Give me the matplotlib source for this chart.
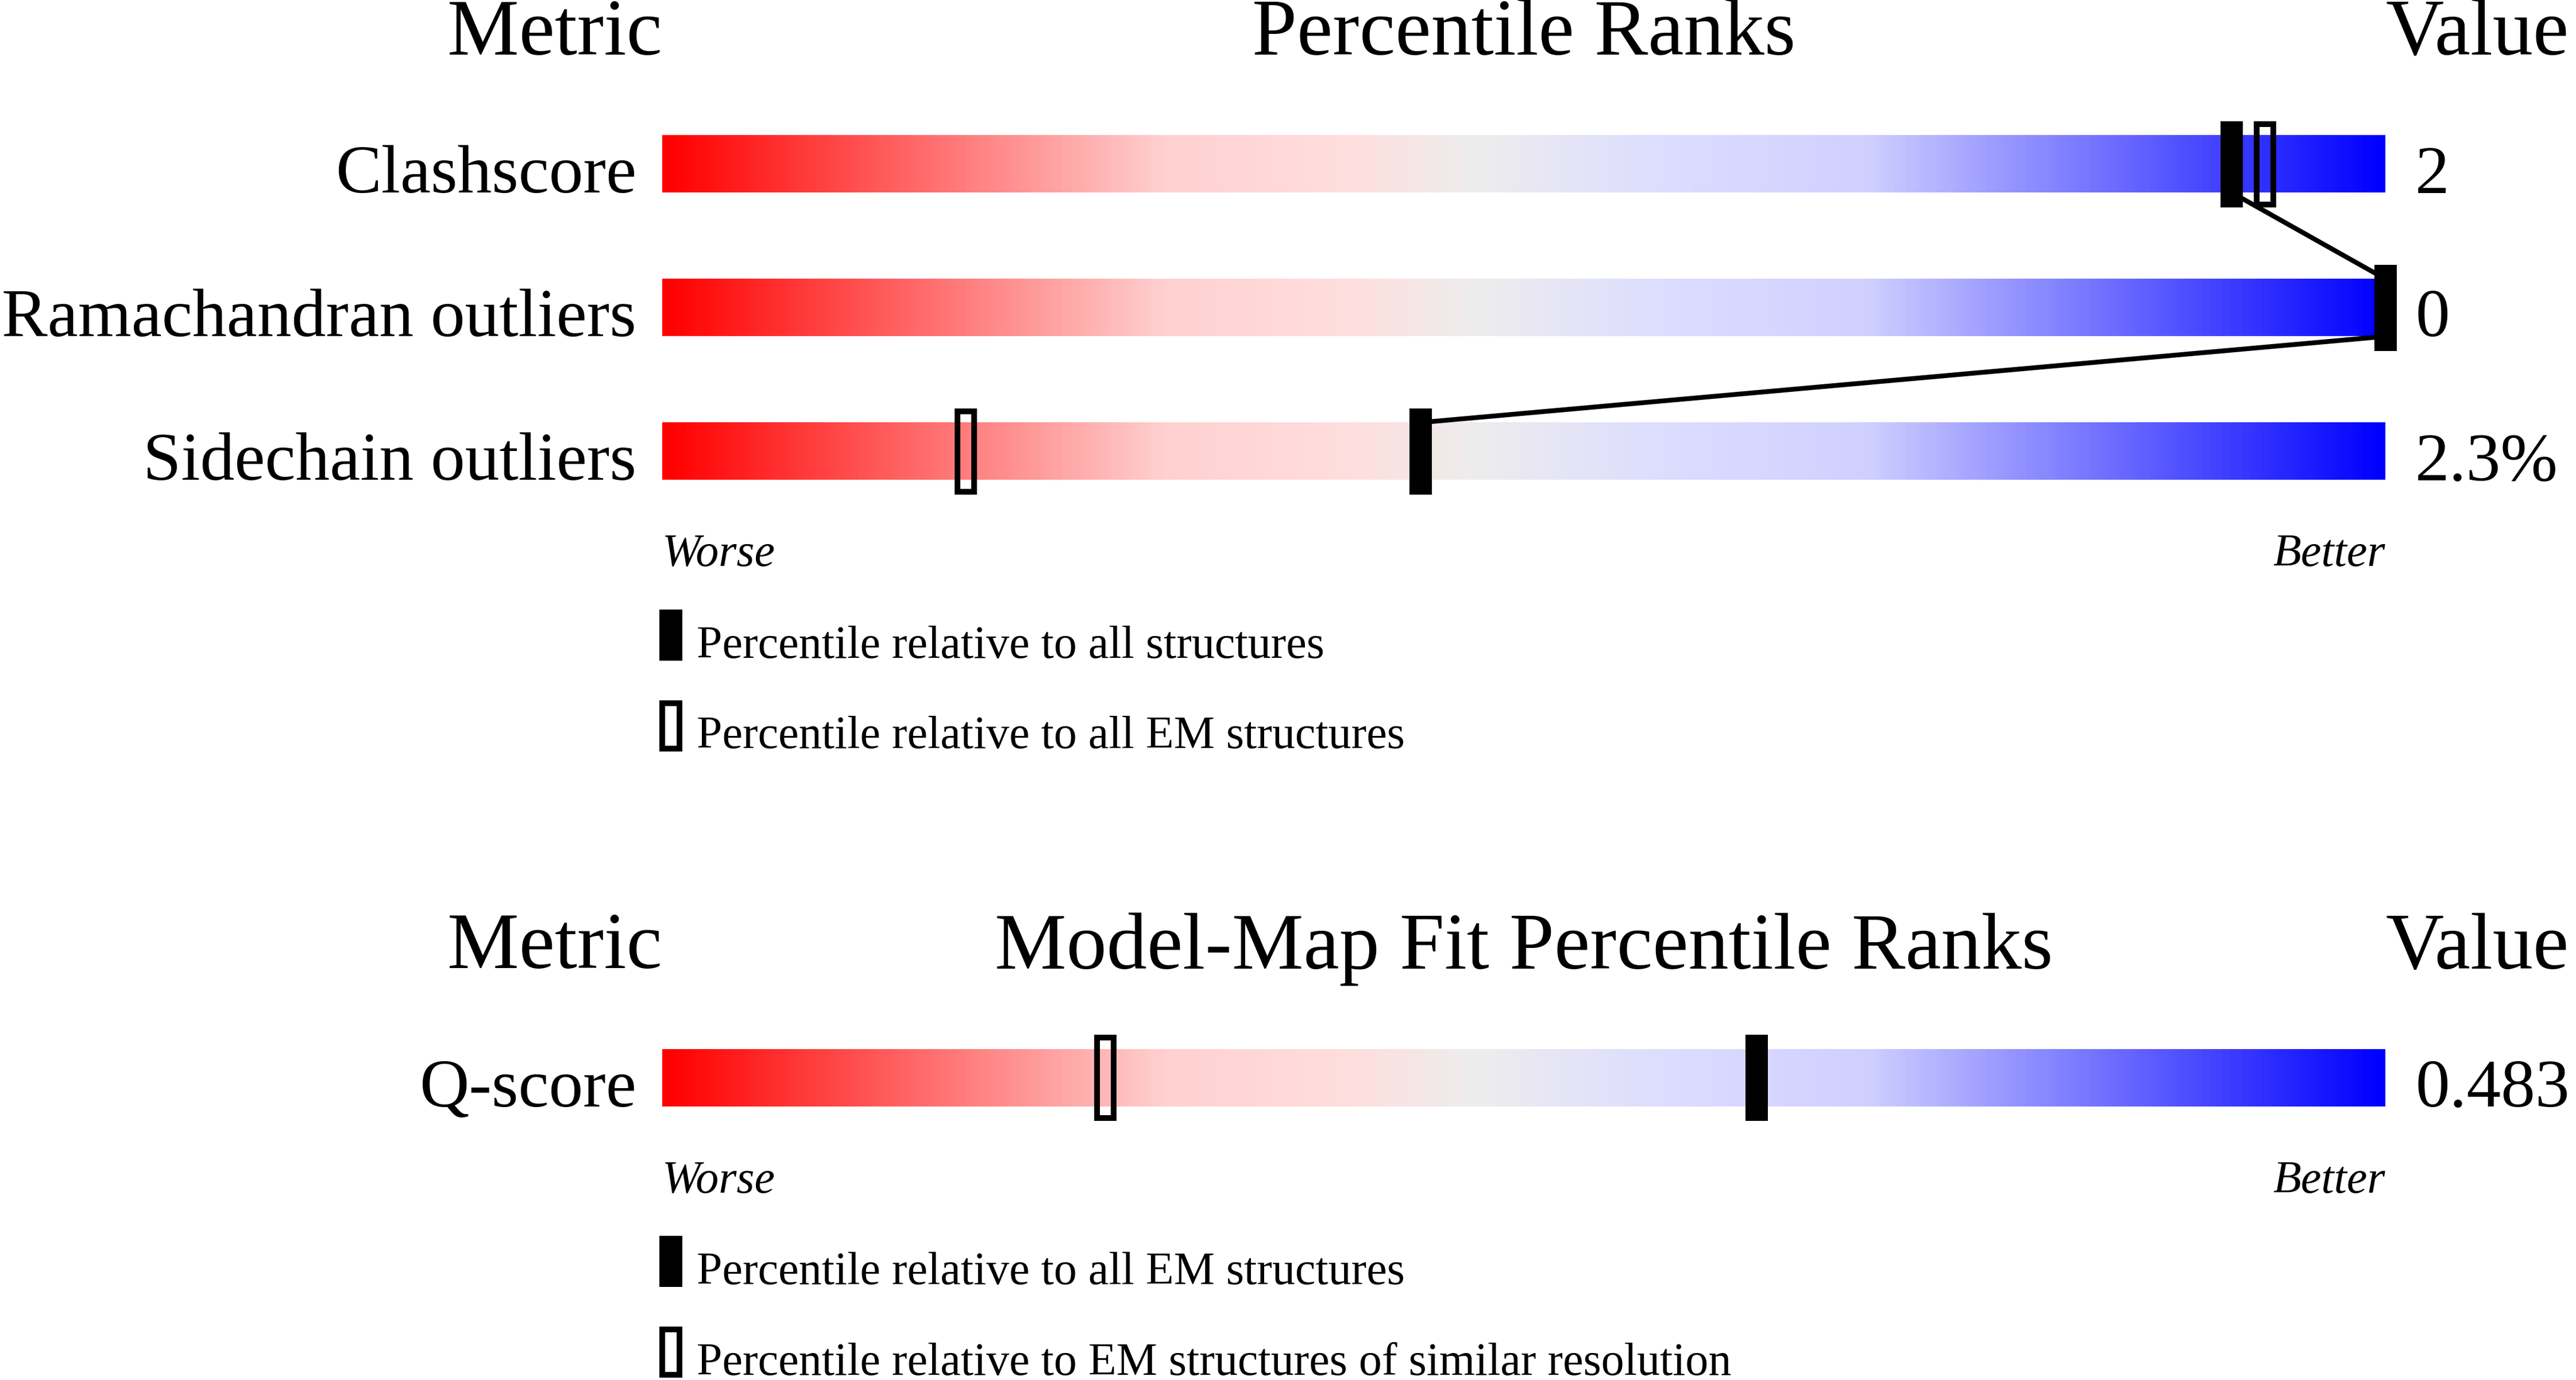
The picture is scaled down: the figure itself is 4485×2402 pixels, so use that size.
import numpy as np
import matplotlib
matplotlib.use("Agg")
import matplotlib.pyplot as plt
from matplotlib.patches import Rectangle
from matplotlib.colors import LinearSegmentedColormap

# ---------------- data ----------------
top_metrics = ["Clashscore", "Ramachandran outliers", "Sidechain outliers"]
top_pct_all = [91.1, 100.0, 44.0]          # percentile relative to all structures
top_pct_em = [93.0, np.nan, 17.6]          # percentile relative to all EM structures
top_values = ["2", "0", "2.3%"]

bot_metrics = ["Q-score"]
bot_pct_all = [63.5]                        # relative to all EM structures
bot_pct_res = [25.7]                        # relative to EM structures of similar resolution
bot_values = ["0.483"]

top_titles = ["Metric", "Percentile Ranks", "Value"]
bot_titles = ["Metric", "Model-Map Fit Percentile Ranks", "Value"]
top_legend = ["Percentile relative to all structures",
              "Percentile relative to all EM structures"]
bot_legend = ["Percentile relative to all EM structures",
              "Percentile relative to EM structures of similar resolution"]
scale_labels = ["Worse", "Better"]

# ---------------- style ----------------
FONT = "Liberation Serif"
plt.rcParams["font.family"] = [FONT, "DejaVu Serif"]
W, H = 4485, 2402
DPI = 100
PX_X = 100 / 3000.0      # data units per pixel horizontally (bar is 3000 px wide)
ROW_PX = 250.0           # pixels per row unit vertically

grad = LinearSegmentedColormap.from_list("slider", [
    (0.00, (1.00, 0.00, 0.00)),
    (0.29, (1.00, 0.816, 0.816)),
    (0.40, (1.00, 0.871, 0.871)),
    (0.47, (0.933, 0.929, 0.929)),
    (0.58, (0.867, 0.867, 1.00)),
    (0.70, (0.816, 0.816, 1.00)),
    (1.00, (0.00, 0.00, 1.00)),
])
gradient = grad(np.linspace(0, 1, 600))[np.newaxis, :, :3]

fig = plt.figure(figsize=(W / DPI, H / DPI), dpi=DPI)
fig.patch.set_facecolor("white")

bar_left = 1153 / W
bar_width = 3000 / W


def make_axes(center_first_row_px, nrows):
    top_px = center_first_row_px - 0.5 * ROW_PX
    bottom_px = top_px + nrows * ROW_PX
    ax = fig.add_axes([bar_left, 1 - bottom_px / H, bar_width, nrows * ROW_PX / H])
    ax.set_axis_off()
    return ax


def draw_panel(ax, metrics, pct_a, pct_b, values, titles, legend, connect):
    n = len(metrics)
    title_fs, label_fs, small_fs = 101, 86, 57.6
    for i in range(n):
        ax.imshow(gradient, extent=(0, 100, i + 0.2, i - 0.2), aspect="auto",
                  interpolation="bilinear", zorder=1)
        ax.text(-45 * PX_X, i + 0.2, metrics[i], ha="right", va="baseline",
                fontsize=label_fs, clip_on=False)
        ax.text(100 + 52 * PX_X, i + 0.2, values[i], ha="left", va="baseline",
                fontsize=label_fs, clip_on=False)
    # connecting line between filled markers
    if connect and n > 1:
        xs, ys = [], []
        for i in range(n):
            if i > 0:
                xs.append(pct_a[i]); ys.append(i - 0.2)
            if i < n - 1:
                xs.append(pct_a[i]); ys.append(i + 0.2)
        ax.plot(xs, ys, color="black", lw=6, zorder=2, clip_on=False,
                solid_capstyle="butt")
    mw = 39 * PX_X
    lw_open = 10 * 72 / DPI
    for i in range(n):
        p = pct_a[i]
        ax.add_patch(Rectangle((p - mw / 2, i - 0.3), mw, 0.6, fc="black",
                               ec="none", zorder=4, clip_on=False))
        q = pct_b[i]
        if not np.isnan(q):
            iw = mw - 10 * PX_X
            ih = 0.6 - 10 / ROW_PX
            ax.add_patch(Rectangle((q - iw / 2, i - ih / 2), iw, ih, fc="none",
                                   ec="black", lw=lw_open, zorder=3,
                                   clip_on=False))
    # titles
    ty = -0.762
    ax.text(0, ty, titles[0], ha="right", va="baseline", fontsize=title_fs, clip_on=False)
    ax.text(50, ty, titles[1], ha="center", va="baseline", fontsize=title_fs, clip_on=False)
    ax.text(100, ty, titles[2], ha="left", va="baseline", fontsize=title_fs, clip_on=False)
    # worse / better
    last = n - 1
    ax.text(0, last + 0.8, scale_labels[0], ha="left", va="baseline",
            fontsize=small_fs, style="italic", clip_on=False)
    ax.text(100, last + 0.8, scale_labels[1], ha="right", va="baseline",
            fontsize=small_fs, style="italic", clip_on=False)
    # legend
    lx = -5 * PX_X
    lwid = 40 * PX_X
    base = last + 0.2
    # filled
    ax.add_patch(Rectangle((lx, base + 0.9), lwid, 0.356, fc="black", ec="none",
                           clip_on=False))
    ax.text(60 * PX_X, base + 1.236, legend[0], ha="left", va="baseline",
            fontsize=small_fs, clip_on=False)
    # open
    ax.add_patch(Rectangle((lx + 5 * PX_X, base + 1.532 + 5 / ROW_PX),
                           lwid - 10 * PX_X, 0.356 - 10 / ROW_PX,
                           fc="none", ec="black", lw=lw_open, clip_on=False))
    ax.text(60 * PX_X, base + 1.866, legend[1], ha="left", va="baseline",
            fontsize=small_fs, clip_on=False)
    ax.set_xlim(0, 100)
    ax.set_ylim(n - 0.5, -0.5)


ax_top = make_axes(285.5, 3)
draw_panel(ax_top, top_metrics, top_pct_all, top_pct_em, top_values,
           top_titles, top_legend, connect=True)

ax_bot = make_axes(1876, 1)
draw_panel(ax_bot, bot_metrics, bot_pct_all, bot_pct_res, bot_values,
           bot_titles, bot_legend, connect=False)

fig.savefig("out.png", dpi=DPI, facecolor="white")
